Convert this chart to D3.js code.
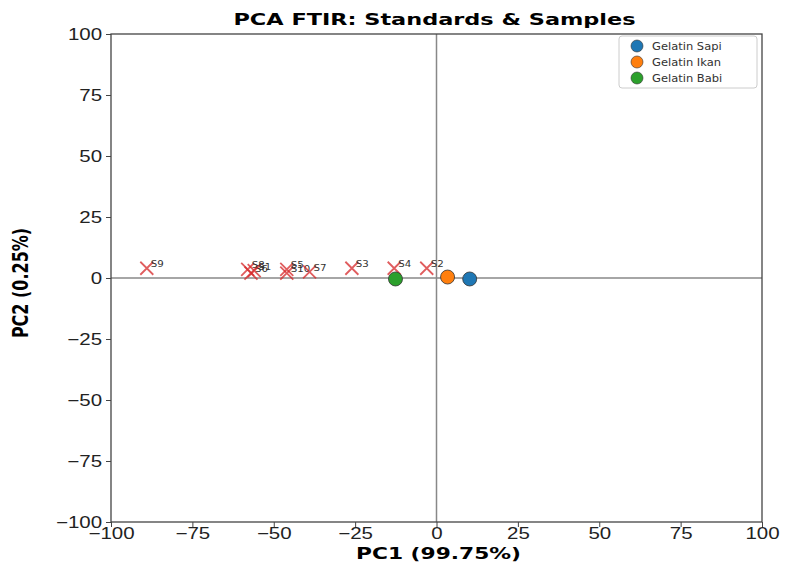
<!DOCTYPE html>
<head>
<meta charset="utf-8">
<title>PCA FTIR</title>
<style>
body { margin: 0; padding: 0; background: #fff; font-family: "DejaVu Sans", sans-serif; }
.tick text { font-size: 16px; fill: #222; }
</style>
</head>
<body>
<svg id="viz" width="786" height="565"></svg>
<script src="https://d3js.org/d3.v7.min.js"></script>
<script>
// samples (red crosses)
var sampleNames = ['S9', 'S8', 'S6', 'S1', 'S5', 'S10', 'S7', 'S3', 'S4', 'S2']
var samplePC1 = [-89, -58, -57, -56, -46, -46, -39, -26, -13, -3]
var samplePC2 = [4, 3.5, 2, 3, 3.5, 2, 2.5, 4, 4, 4]

// standards
var stdNames = ['Gelatin Sapi', 'Gelatin Ikan', 'Gelatin Babi']
var stdPC1 = [10.2, 3.4, -12.6]
var stdPC2 = [-0.4, 0.4, -0.4]
var stdColors = ['#1f77b4', '#ff7f0e', '#2ca02c']

var ticks = [-100, -75, -50, -25, 0, 25, 50, 75, 100]

var svg = d3.select('#viz')
var pl = 111, pr = 762, pt = 34, pb = 522
var sx = 1.28  // the source picture is stretched sideways

var x = d3.scaleLinear().domain([-100, 100]).range([pl, pr])
var y = d3.scaleLinear().domain([-100, 100]).range([pb, pt])
var fmt = function(d) { return String(d).replace('-', '\u2212') }

// zero lines
svg.append('line')
  .attr('x1', x(0)).attr('x2', x(0)).attr('y1', pt).attr('y2', pb)
  .attr('stroke', '#888').attr('stroke-width', 1.5)
svg.append('line')
  .attr('x1', pl).attr('x2', pr).attr('y1', y(0)).attr('y2', y(0))
  .attr('stroke', '#888').attr('stroke-width', 1.5)

svg.append('g').attr('transform', 'translate(0,' + pb + ')')
  .call(d3.axisBottom(x).tickValues(ticks).tickFormat(fmt).tickSize(5).tickPadding(1))
  .selectAll('.tick text').attr('transform', 'scale(' + sx + ',1)')
svg.append('g').attr('transform', 'translate(' + pl + ',0)')
  .call(d3.axisLeft(y).tickValues(ticks).tickFormat(fmt).tickSize(5).tickPadding(2))
  .selectAll('.tick text').attr('transform', 'scale(' + sx + ',1)')
svg.selectAll('.domain').remove()
svg.selectAll('.tick line').attr('stroke', '#444')

// frame
svg.append('rect')
  .attr('x', pl).attr('y', pt).attr('width', pr - pl).attr('height', pb - pt)
  .attr('fill', 'none').attr('stroke', '#444').attr('stroke-width', 1.3)

// sample crosses
var cross = svg.append('g')
samplePC1.forEach(function(v, i) {
  var cx = x(v), cy = y(samplePC2[i]), s = 6.5
  cross.append('path')
    .attr('d', 'M' + (cx - s) + ',' + (cy - s) + 'L' + (cx + s) + ',' + (cy + s) +
               'M' + (cx - s) + ',' + (cy + s) + 'L' + (cx + s) + ',' + (cy - s))
    .attr('stroke', '#d62728').attr('stroke-width', 1.8).attr('stroke-opacity', 0.75)
  cross.append('text')
    .attr('transform', 'translate(' + (cx + 4) + ',' + (cy - 1) + ') scale(' + sx + ',1)')
    .attr('font-size', 8).attr('fill', '#333')
    .text(sampleNames[i])
})

// standards
svg.append('g').selectAll('circle')
  .data(stdPC1)
  .enter().append('circle')
    .attr('cx', function(d) { return x(d) })
    .attr('cy', function(d, i) { return y(stdPC2[i]) })
    .attr('r', 7)
    .attr('fill', function(d, i) { return stdColors[i] })
    .attr('stroke', '#333').attr('stroke-width', 0.8)

// title and axis labels
svg.append('text')
  .attr('transform', 'translate(' + ((pl + pr) / 2 - 2) + ',25) scale(1.4,1)')
  .attr('text-anchor', 'middle').attr('font-size', 16).attr('font-weight', 'bold')
  .text('PCA FTIR: Standards & Samples')
svg.append('text')
  .attr('transform', 'translate(' + ((pl + pr) / 2 + 2) + ',559) scale(1.36,1)')
  .attr('text-anchor', 'middle').attr('font-size', 16).attr('font-weight', 'bold')
  .text('PC1 (99.75%)')
svg.append('text')
  .attr('transform', 'translate(28,' + ((pt + pb) / 2 + 5) + ') scale(' + sx + ',1) rotate(-90)')
  .attr('text-anchor', 'middle').attr('font-size', 16).attr('font-weight', 'bold')
  .text('PC2 (0.25%)')

// legend
var lg = svg.append('g')
lg.append('rect').attr('x', 619).attr('y', 36).attr('width', 138).attr('height', 52)
  .attr('rx', 3).attr('fill', '#fff').attr('stroke', '#ccc')
stdNames.forEach(function(n, i) {
  lg.append('circle').attr('cx', 637).attr('cy', 46 + i * 16).attr('r', 6)
    .attr('fill', stdColors[i]).attr('stroke', '#333').attr('stroke-width', 0.6)
  lg.append('text')
    .attr('transform', 'translate(652,' + (50 + i * 16) + ') scale(1.15,1)')
    .attr('font-size', 10).attr('fill', '#333').text(n)
})
</script>
</body>
</html>
